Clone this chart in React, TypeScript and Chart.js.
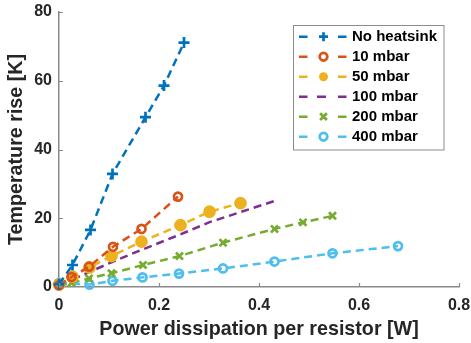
import React, { useEffect, useRef } from 'react';
import { Chart, registerables } from 'chart.js';

Chart.register(...registerables);

// ---- data ----
const seriesLabels = ['No heatsink', '10 mbar', '50 mbar', '100 mbar', '200 mbar', '400 mbar'];
const seriesColors = ['#0072BD', '#D95319', '#EDB120', '#7E2F8E', '#77AC30', '#4DBEEE'];
const seriesMarkers = ['cross', 'circleOpen', 'circleFilled', 'none', 'crossRot', 'circleOpen'];

const noHeatsinkX = [0, 0.027, 0.063, 0.107, 0.173, 0.21, 0.25];
const noHeatsinkY = [0.8, 6.4, 16.6, 32.9, 49.4, 58.6, 71.1];

const mbar10X = [0, 0.025, 0.06, 0.108, 0.165, 0.238];
const mbar10Y = [0.5, 2.9, 5.9, 11.7, 16.9, 26.3];

const mbar50X = [0, 0.027, 0.061, 0.105, 0.165, 0.243, 0.301, 0.363];
const mbar50Y = [0.7, 3.0, 5.7, 9.0, 13.2, 18.0, 21.9, 24.4];

const mbar100X = [0.027, 0.06, 0.105, 0.165, 0.241, 0.3, 0.363, 0.433];
const mbar100Y = [2.2, 4.3, 7.2, 10.8, 15.2, 18.8, 21.8, 25.1];

const mbar200X = [0, 0.025, 0.06, 0.105, 0.168, 0.241, 0.328, 0.431, 0.488, 0.547];
const mbar200Y = [0.4, 1.2, 2.5, 4.0, 6.4, 9.0, 12.9, 16.9, 18.8, 20.7];

const mbar400X = [0, 0.061, 0.107, 0.167, 0.24, 0.328, 0.431, 0.547, 0.678];
const mbar400Y = [1.2, 0.7, 1.8, 2.8, 3.9, 5.4, 7.4, 9.8, 11.9];

const xTickValues = [0, 0.2, 0.4, 0.6, 0.8];
const yTickValues = [0, 20, 40, 60, 80];

const xTitle = 'Power dissipation per resistor [W]';
const yTitle = 'Temperature rise [K]';

const seriesX = [noHeatsinkX, mbar10X, mbar50X, mbar100X, mbar200X, mbar400X];
const seriesY = [noHeatsinkY, mbar10Y, mbar50Y, mbar100Y, mbar200Y, mbar400Y];

const FONT = "'Liberation Sans', Arial, Helvetica, sans-serif";
const TEXT = '#262626';
const AXIS = '#8a8a8a';

function drawMarker(ctx: CanvasRenderingContext2D, kind: string, x: number, y: number, r: number, color: string) {
  ctx.save();
  ctx.setLineDash([]);
  ctx.strokeStyle = color;
  ctx.fillStyle = color;
  ctx.lineWidth = 2.7;
  ctx.beginPath();
  if (kind === 'cross') {
    ctx.moveTo(x - r, y); ctx.lineTo(x + r, y);
    ctx.moveTo(x, y - r); ctx.lineTo(x, y + r);
    ctx.stroke();
  } else if (kind === 'crossRot') {
    const d = r * 0.75;
    ctx.moveTo(x - d, y - d); ctx.lineTo(x + d, y + d);
    ctx.moveTo(x - d, y + d); ctx.lineTo(x + d, y - d);
    ctx.stroke();
  } else if (kind === 'circleOpen') {
    ctx.arc(x, y, r * 0.85, 0, Math.PI * 2);
    ctx.stroke();
  } else if (kind === 'circleFilled') {
    ctx.arc(x, y, r, 0, Math.PI * 2);
    ctx.fill();
  }
  ctx.restore();
}

const innerTicksAndLegend = {
  id: 'innerTicksAndLegend',
  afterDraw(chart: any) {
    const ctx: CanvasRenderingContext2D = chart.ctx;
    const xs = chart.scales.x;
    const ys = chart.scales.y;
    const area = chart.chartArea;
    ctx.save();
    ctx.strokeStyle = AXIS;
    ctx.lineWidth = 1.2;
    ctx.setLineDash([]);
    ctx.beginPath();
    xTickValues.forEach((v) => {
      const px = Math.round(xs.getPixelForValue(v)) + 0.5;
      ctx.moveTo(px, area.bottom);
      ctx.lineTo(px, area.bottom - 4);
    });
    yTickValues.forEach((v) => {
      const py = Math.round(ys.getPixelForValue(v)) + 0.5;
      ctx.moveTo(area.left, py);
      ctx.lineTo(area.left + 4, py);
    });
    ctx.stroke();

    // legend box
    const bx = 293.5, by = 25.5, bw = 150.5, bh = 124.5;
    ctx.fillStyle = '#ffffff';
    ctx.fillRect(bx, by, bw, bh);
    ctx.strokeStyle = '#8c8c8c';
    ctx.lineWidth = 1;
    ctx.strokeRect(bx, by, bw, bh);

    ctx.font = `bold 15px ${FONT}`;
    ctx.textBaseline = 'middle';
    ctx.textAlign = 'left';
    seriesLabels.forEach((label, i) => {
      const y = 36.7 + 20 * i;
      const color = seriesColors[i];
      const kind = seriesMarkers[i];
      ctx.strokeStyle = color;
      ctx.lineWidth = 2.5;
      ctx.setLineDash([]);
      ctx.beginPath();
      ctx.moveTo(299, y); ctx.lineTo(307.5, y);
      ctx.moveTo(338, y); ctx.lineTo(346.5, y);
      if (kind === 'none') {
        ctx.moveTo(317, y); ctx.lineTo(326, y);
      }
      ctx.stroke();
      if (kind !== 'none') drawMarker(ctx, kind, 323.5, y, 4.5, color);
      ctx.fillStyle = '#000000';
      ctx.fillText(label, 352, y + 0.5);
    });
    ctx.restore();
  },
};

export default function App() {
  const canvasRef = useRef<HTMLCanvasElement | null>(null);

  useEffect(() => {
    document.body.style.margin = '0';
    const canvas = canvasRef.current;
    if (!canvas) return;

    const datasets = seriesLabels.map((label, i) => {
      const kind = seriesMarkers[i];
      const color = seriesColors[i];
      let pointStyle: any = 'circle';
      let pointRadius = 4.5;
      let pointBackgroundColor = color;
      if (kind === 'cross') { pointStyle = 'cross'; pointRadius = 5.5; }
      else if (kind === 'crossRot') { pointStyle = 'crossRot'; pointRadius = 5; }
      else if (kind === 'circleOpen') { pointStyle = 'circle'; pointRadius = 4; pointBackgroundColor = 'rgba(0,0,0,0)'; }
      else if (kind === 'circleFilled') { pointStyle = 'circle'; pointRadius = 5; }
      else { pointRadius = 0; }
      return {
        label,
        data: seriesX[i].map((x, j) => ({ x, y: seriesY[i][j] })),
        borderColor: color,
        backgroundColor: color,
        borderWidth: 2.5,
        borderDash: [8, 5],
        tension: 0,
        fill: false,
        pointStyle,
        pointRadius,
        pointHoverRadius: pointRadius,
        pointBorderColor: color,
        pointBackgroundColor,
        pointBorderWidth: 2.7,
        clip: false as any,
      };
    });

    const zeroPad = (s: any) => {
      s.paddingLeft = 0; s.paddingRight = 0; s.paddingTop = 0; s.paddingBottom = 0;
    };

    const chart = new Chart(canvas, {
      type: 'line',
      data: { datasets },
      options: {
        animation: false,
        responsive: false,
        maintainAspectRatio: false,
        events: [],
        layout: { padding: { left: 0, right: 12, top: 12, bottom: 0 } },
        plugins: {
          legend: { display: false },
          tooltip: { enabled: false },
          title: { display: false },
        },
        scales: {
          x: {
            type: 'linear',
            min: 0,
            max: 0.8,
            afterFit: (s: any) => { s.height = 56; zeroPad(s); },
            afterBuildTicks: (s: any) => { s.ticks = xTickValues.map((v) => ({ value: v })); },
            ticks: {
              color: TEXT,
              font: { family: FONT, size: 16, weight: 'bold' },
              padding: 9,
              maxRotation: 0,
              autoSkip: false,
              callback: (v: any) => String(Math.round(Number(v) * 10) / 10),
            },
            grid: { display: false, drawTicks: false },
            border: { display: true, color: AXIS, width: 1.5 },
            title: {
              display: true,
              text: xTitle,
              color: TEXT,
              font: { family: FONT, size: 19.7, weight: 'bold', lineHeight: 1.2 },
              padding: { top: 0, bottom: 2 },
            },
          },
          y: {
            type: 'linear',
            min: 0,
            max: 80,
            afterFit: (s: any) => { s.width = 59; zeroPad(s); },
            afterBuildTicks: (s: any) => { s.ticks = yTickValues.map((v) => ({ value: v })); },
            ticks: {
              color: TEXT,
              font: { family: FONT, size: 16, weight: 'bold' },
              padding: 7,
              autoSkip: false,
            },
            grid: { display: false, drawTicks: false },
            border: { display: true, color: AXIS, width: 1.5 },
            title: {
              display: true,
              text: yTitle,
              color: TEXT,
              font: { family: FONT, size: 19.7, weight: 'bold', lineHeight: 1.2 },
              padding: { top: 5, bottom: 0 },
            },
          },
        },
      },
      plugins: [innerTicksAndLegend],
    });

    return () => { chart.destroy(); };
  }, []);

  return (
    <div style={{ position: 'absolute', left: 0, top: 0, width: 471, height: 343, background: '#fff' }}>
      <canvas ref={canvasRef} width={471} height={343} style={{ width: 471, height: 343, display: 'block' }} />
    </div>
  );
}
